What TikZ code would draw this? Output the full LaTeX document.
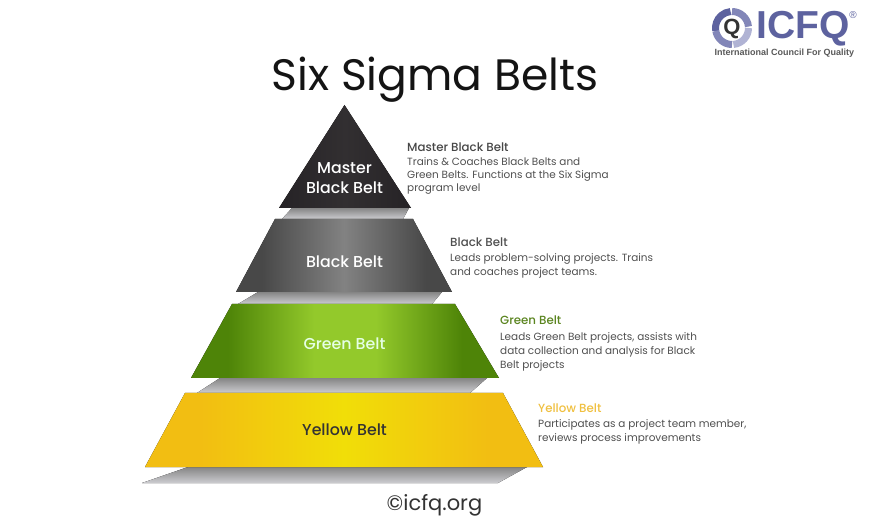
\documentclass[tikz,border=0pt]{standalone}
\usepackage{fontspec}
\setmainfont{Poppins}
\newfontfamily\medfont{Poppins Medium}
\newfontfamily\logofont{Liberation Sans}
\definecolor{txtgray}{HTML}{505050}
\definecolor{masterdark}{HTML}{262326}
\definecolor{masterlite}{HTML}{322F31}
\definecolor{blackedge}{HTML}{484848}
\definecolor{blackmid}{HTML}{828282}
\definecolor{greenedge}{HTML}{4E8408}
\definecolor{greenmid}{HTML}{93C92B}
\definecolor{yelledge}{HTML}{F2BE12}
\definecolor{yellmid}{HTML}{F1DE08}
\definecolor{greenhead}{HTML}{5B8520}
\definecolor{yellhead}{HTML}{F0C040}
\definecolor{logoblue}{HTML}{5D629F}
\definecolor{logomid}{HTML}{8286B8}
\definecolor{logolite}{HTML}{B0B3D4}
\definecolor{shadtop}{HTML}{858585}
\definecolor{shadlow}{HTML}{CCCCD0}
\pgfdeclarehorizontalshading{blacksh}{100bp}{color(0bp)=(blackedge); color(31bp)=(blackedge); color(50bp)=(blackmid); color(69bp)=(blackedge); color(100bp)=(blackedge)}
\pgfdeclarehorizontalshading{greensh}{100bp}{color(0bp)=(greenedge); color(31bp)=(greenedge); color(45bp)=(greenmid); color(55bp)=(greenmid); color(69bp)=(greenedge); color(100bp)=(greenedge)}
\pgfdeclarehorizontalshading{yellsh}{100bp}{color(0bp)=(yelledge); color(32bp)=(yelledge); color(50bp)=(yellmid); color(68bp)=(yelledge); color(100bp)=(yelledge)}
\tikzset{
  shadowband/.style={top color=shadtop,bottom color=shadlow,draw=none},
  belttext/.style={font=\medfont\fontsize{15.8}{20}\selectfont,align=center,text=white,inner sep=0pt},
  headtext/.style={font=\medfont\fontsize{11.8}{13}\selectfont,anchor=base west,inner sep=0pt},
  bodytext/.style={font=\fontsize{10.45}{#1}\selectfont,text=txtgray,anchor=base west,inner sep=0pt,align=left},
  logoring/.style={line width=7pt},
}
\begin{document}
\begin{tikzpicture}[x=1pt,y=-1pt]
\useasboundingbox (0,0) rectangle (870,526);
\fill[white] (0,0) rectangle (870,526);
% shadows
\fill[shadowband] (292,208) -- (409,208) -- (403,219) -- (282,219) -- cycle;
\fill[shadowband] (258,292) -- (442,292) -- (432,304) -- (238,304) -- cycle;
\fill[shadowband] (220,378) -- (487,378) -- (470,393) -- (197,393) -- cycle;
\fill[shadowband] (188,467) -- (527,467) -- (498,483) -- (142,483) -- cycle;
% tiers
\fill[left color=masterdark,right color=masterdark,middle color=masterlite] (344.5,105) -- (411,208) -- (279,208) -- cycle;
\fill[shading=blacksh] (275,219) -- (413,219) -- (452,292) -- (236,292) -- cycle;
\fill[shading=greensh] (232,304) -- (455,304) -- (499,378) -- (191,378) -- cycle;
\fill[shading=yellsh] (185,393) -- (503,393) -- (543,467) -- (145,467) -- cycle;
% tier labels
\node[belttext] (lmaster) at (344.5,178) {Master\\Black Belt};
\node[belttext] (lblack) at (344.5,262) {Black Belt};
\node[belttext,text=white!90!green] (lgreen) at (344.5,343.5) {Green Belt};
\node[belttext,text=black!80] (lyellow) at (344.5,429.5) {Yellow Belt};
% title and credit
\node[font=\fontsize{44}{50}\selectfont,text=black!92,inner sep=0pt] (title) at (435,80) {Six Sigma Belts};
\node[font=\fontsize{21}{24}\selectfont,text=black!80,inner sep=0pt] (credit) at (434.5,505) {©icfq.org};
% descriptions
\node[headtext,text=black!72] (hmaster) at (407,152) {Master Black Belt};
\node[bodytext=13] (bmaster) at (407,191.5) {Trains \& Coaches Black Belts and\\Green Belts. Functions at the Six Sigma\\program level};
\node[headtext,text=txtgray] (hblack) at (450,247) {Black Belt};
\node[bodytext=14.5] (bblack) at (450,276) {Leads problem-solving projects. Trains\\and coaches project teams.};
\node[headtext,text=greenhead] (hgreen) at (500,325) {Green Belt};
\node[bodytext=14.3] (bgreen) at (500,368.6) {Leads Green Belt projects, assists with\\data collection and analysis for Black\\Belt projects};
\node[headtext,text=yellhead] (hyellow) at (538,413) {Yellow Belt};
\node[bodytext=14.7] (byellow) at (538,441.7) {Participates as a project team member,\\reviews process improvements};
% logo
\begin{scope}[shift={(732,28)},y=1pt]
\draw[logoring,logoblue] (190:16.5) arc[start angle=190,end angle=95,radius=16.5];
\draw[logoring,logomid] (90:16.5) arc[start angle=90,end angle=5,radius=16.5];
\draw[logoring,logolite] (0:16.5) arc[start angle=0,end angle=-85,radius=16.5];
\draw[logoring,logomid] (-90:16.5) arc[start angle=-90,end angle=-170,radius=16.5];
\end{scope}
\node[font=\logofont\fontsize{22}{22}\selectfont\bfseries,text=black!80,inner sep=0pt] (logoq) at (732,29) {Q};
\node[font=\logofont\fontsize{39}{38}\selectfont\bfseries,text=logoblue,inner sep=0pt,anchor=west] (logoname) at (756.5,29) {ICFQ};
\node[font=\logofont\fontsize{10}{10}\selectfont,text=logoblue,inner sep=0pt] (logoreg) at (853,15) {®};
\node[font=\logofont\fontsize{9}{9}\selectfont\bfseries,text=black!65,inner sep=0pt,anchor=west] (logotag) at (714.5,53.5) {International Council For Quality};
\end{tikzpicture}
\end{document}
